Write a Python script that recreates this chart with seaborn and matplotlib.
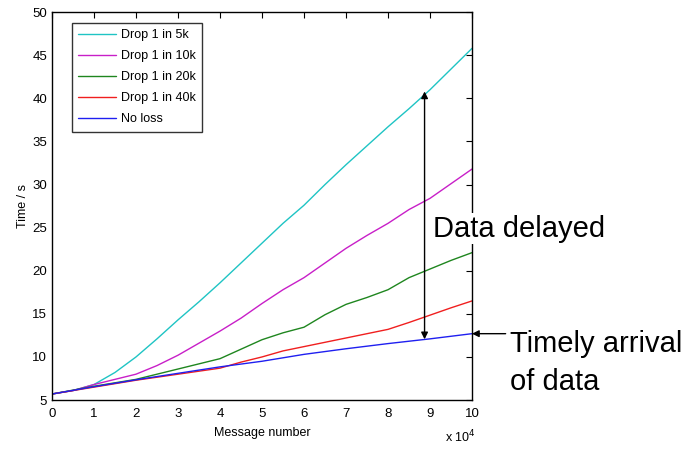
import numpy as np
import pandas as pd
import matplotlib
matplotlib.use("Agg")
import matplotlib.pyplot as plt
import seaborn as sns

# ---- data (x in units of 1e4 messages, y in seconds) ----
series_names = ["Drop 1 in 5k", "Drop 1 in 10k", "Drop 1 in 20k", "Drop 1 in 40k", "No loss"]

x_5k = [0, 0.5, 1, 1.5, 2, 2.5, 3, 3.5, 4, 4.5, 5, 5.5, 6, 6.5, 7, 7.5, 8, 8.5, 9, 9.5, 10]
y_5k = [5.7, 6.1, 6.8, 8.2, 10.0, 12.1, 14.3, 16.4, 18.6, 20.9, 23.2, 25.5, 27.6, 30.0, 32.3, 34.5, 36.7, 38.8, 41.0, 43.4, 45.8]

x_10k = [0, 0.5, 1, 1.5, 2, 2.5, 3, 3.5, 4, 4.5, 5, 5.5, 6, 6.5, 7, 7.5, 8, 8.5, 9, 9.5, 10]
y_10k = [5.7, 6.1, 6.8, 7.4, 8.0, 9.0, 10.2, 11.6, 13.0, 14.5, 16.2, 17.8, 19.2, 20.9, 22.6, 24.1, 25.5, 27.1, 28.4, 30.1, 31.8]

x_20k = [0, 1, 2, 2.5, 3, 3.5, 4, 4.5, 5, 5.5, 6, 6.5, 7, 7.5, 8, 8.5, 9, 9.5, 10]
y_20k = [5.7, 6.6, 7.4, 8.0, 8.6, 9.2, 9.8, 10.9, 12.0, 12.8, 13.45, 14.9, 16.1, 16.9, 17.8, 19.2, 20.2, 21.2, 22.1]

x_40k = [0, 1, 2, 3, 4, 4.5, 5, 5.5, 6, 6.5, 7, 7.5, 8, 8.5, 9, 9.5, 10]
y_40k = [5.7, 6.5, 7.3, 8.0, 8.7, 9.4, 10.0, 10.7, 11.2, 11.7, 12.2, 12.7, 13.2, 14.0, 14.85, 15.7, 16.5]

x_none = [0, 1, 2, 3, 4, 5, 6, 7, 8, 9, 10]
y_none = [5.7, 6.55, 7.35, 8.1, 8.85, 9.5, 10.3, 10.95, 11.55, 12.1, 12.7]

x_ticks = [0, 1, 2, 3, 4, 5, 6, 7, 8, 9, 10]
y_ticks = [5, 10, 15, 20, 25, 30, 35, 40, 45, 50]

colors = ["#1fc4c4", "#c81fc8", "#1f861f", "#f01f1f", "#1f1ff0"]

frames = []
for name, xs, ys in zip(series_names,
                        [x_5k, x_10k, x_20k, x_40k, x_none],
                        [y_5k, y_10k, y_20k, y_40k, y_none]):
    frames.append(pd.DataFrame({"x": xs, "y": ys, "series": name}))
df = pd.concat(frames, ignore_index=True)

sns.set_style("white")
plt.rcParams["font.family"] = ["Liberation Sans", "DejaVu Sans"]
plt.rcParams["text.color"] = "black"
plt.rcParams["axes.labelcolor"] = "black"
plt.rcParams["xtick.color"] = "black"
plt.rcParams["ytick.color"] = "black"

fig = plt.figure(figsize=(6.96, 4.5), dpi=100)
ax = fig.add_axes([0.0747, 0.111, 0.6035, 0.862])

sns.lineplot(data=df, x="x", y="y", hue="series", hue_order=series_names,
             palette=dict(zip(series_names, colors)), linewidth=1.0,
             ax=ax, sort=False, estimator=None)

ax.set_xlim(0, 10)
ax.set_ylim(5, 50)
ax.set_xticks(x_ticks)
ax.set_yticks(y_ticks)
ax.tick_params(direction="in", length=4, width=0.8, labelsize=9.5,
               top=True, right=True, colors="black")
ax.tick_params(axis="x", pad=6)
for s in ax.spines.values():
    s.set_color("black")
    s.set_linewidth(1.0)
ax.set_xlabel("Message number", fontsize=9, labelpad=5, color="black")
ax.set_ylabel("Time / s", fontsize=9, labelpad=2, color="black")
fig.text(0.64, 0.01, r"x 10$^4$", fontsize=9, ha="left", va="bottom")

leg = ax.legend(loc="upper left", bbox_to_anchor=(0.048, 0.972), fontsize=9,
                frameon=True, fancybox=False, handlelength=3.0,
                borderpad=0.5, labelspacing=0.72, handletextpad=0.4,
                borderaxespad=0)
leg.get_frame().set_edgecolor("black")
leg.get_frame().set_linewidth(1.0)
for t in leg.get_texts():
    t.set_color("black")

# double arrow "Data delayed"
ax.annotate("", xy=(8.87, 40.8), xytext=(8.87, 12.05),
            arrowprops=dict(arrowstyle="<|-|>", color="black", lw=1.0,
                            shrinkA=0, shrinkB=0, mutation_scale=10))
fig.text(0.622, 0.474, "Data delayed", fontsize=21, ha="left", va="baseline",
         bbox=dict(facecolor="white", edgecolor="none", pad=1))

# arrow to blue line end
ax.annotate("", xy=(10.0, 12.7), xytext=(10.8, 12.7),
            arrowprops=dict(arrowstyle="-|>", color="black", lw=1.0,
                            shrinkA=0, shrinkB=0, mutation_scale=10),
            annotation_clip=False)
fig.text(0.733, 0.218, "Timely arrival", fontsize=21, ha="left", va="baseline")
fig.text(0.733, 0.133, "of data", fontsize=21, ha="left", va="baseline")

fig.savefig("out.png", dpi=100)
